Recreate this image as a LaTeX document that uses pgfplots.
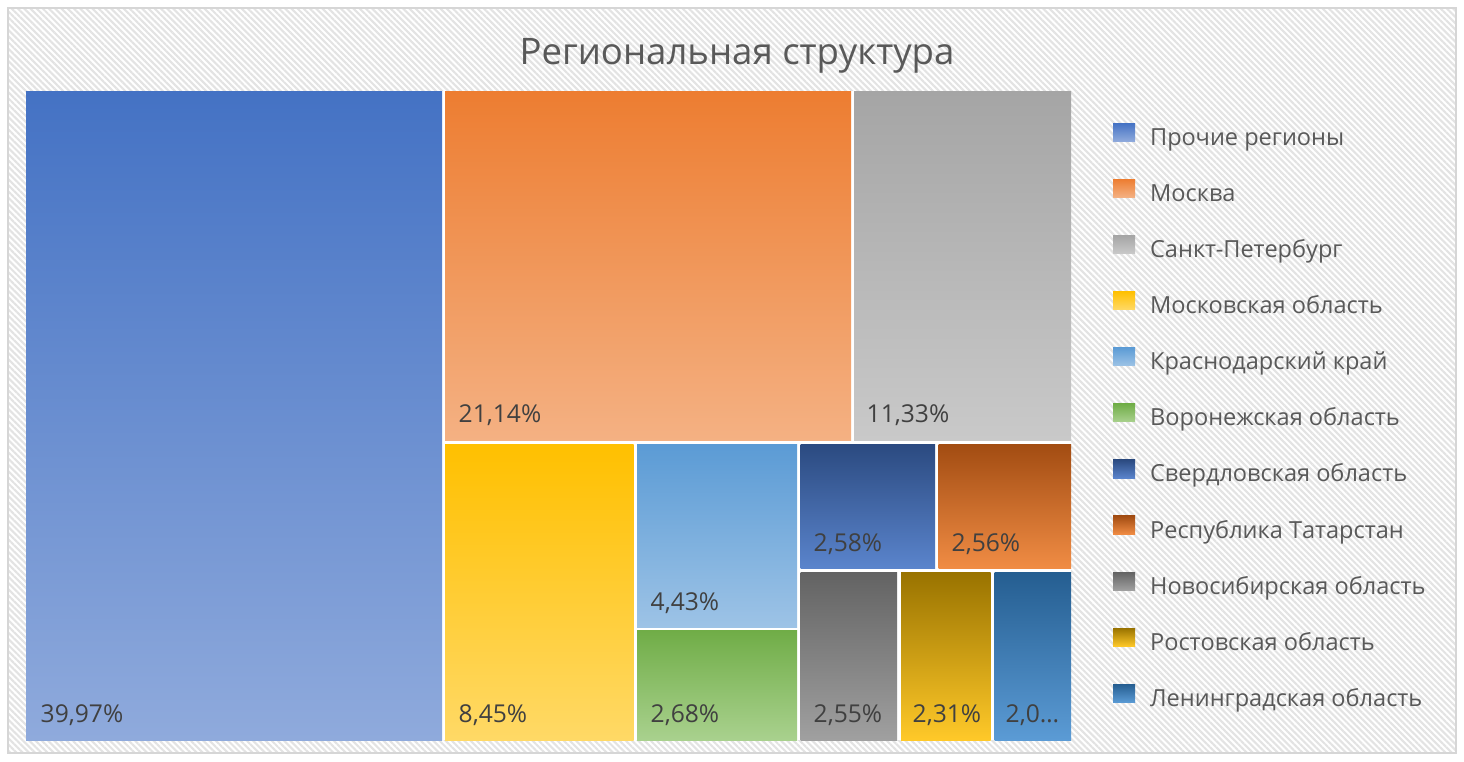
\documentclass[border=0pt]{standalone}
\usepackage{fontspec}
\setmainfont{Open Sans}
\usepackage{pgfplots}
\pgfplotsset{compat=1.18}
\usetikzlibrary{patterns.meta}

\definecolor{lab}{HTML}{404040}
\definecolor{leg}{HTML}{595959}
\definecolor{c1t}{HTML}{4472C4}\definecolor{c1b}{HTML}{8FAADC}
\definecolor{c2t}{HTML}{ED7D31}\definecolor{c2b}{HTML}{F4B183}
\definecolor{c3t}{HTML}{A5A5A5}\definecolor{c3b}{HTML}{C9C9C9}
\definecolor{c4t}{HTML}{FFC000}\definecolor{c4b}{HTML}{FFD966}
\definecolor{c5t}{HTML}{5B9BD5}\definecolor{c5b}{HTML}{9DC3E6}
\definecolor{c6t}{HTML}{70AD47}\definecolor{c6b}{HTML}{A9D18E}
\definecolor{c7t}{HTML}{2B4A80}\definecolor{c7b}{HTML}{5A84CC}
\definecolor{c8t}{HTML}{A24C12}\definecolor{c8b}{HTML}{F08C44}
\definecolor{c9t}{HTML}{636363}\definecolor{c9b}{HTML}{A0A0A0}
\definecolor{c10t}{HTML}{997300}\definecolor{c10b}{HTML}{FFC929}
\definecolor{c11t}{HTML}{255E91}\definecolor{c11b}{HTML}{5B9BD5}

\begin{document}
\begin{tikzpicture}
\useasboundingbox (0,0) rectangle (14.64cm,7.61cm);
\begin{axis}[
  at={(0,0)}, anchor=south west,
  width=14.64cm, height=7.61cm, scale only axis,
  xmin=0, xmax=1464, ymin=0, ymax=761, y dir=reverse,
  hide axis, clip=false,
  legend cell align=left,
  legend image code/.code={\fill[#1] (0pt,-1.4pt) rectangle (6.26pt,3.8pt);},
  legend style={at={(axis cs:1113,123)}, anchor=north west,
    draw=none, fill=none, inner sep=0pt, outer sep=0pt,
    row sep=9.67pt, column sep=4.3pt,
    font=\fontsize{6.7}{8}\selectfont, text=leg,
    nodes={inner sep=0pt, outer sep=0pt, text height=5pt, text depth=0pt}},
]
% background
\fill[white] (axis cs:0,0) rectangle (axis cs:1464,761);
\fill[pattern={Lines[angle=-45,distance=1.25pt,line width=0.6pt]}, pattern color=black!11]
  (axis cs:8,8) rectangle (axis cs:1456,753);
\draw[black!16, line width=0.4pt] (axis cs:8,8) rectangle (axis cs:1456,753);
\fill[white] (axis cs:26,91) rectangle (axis cs:1071,740);

% tiles (pixel coordinates of each rectangle)
\addplot[draw=none, top color=c1t, bottom color=c1b] coordinates {(26,91) (442,91) (442,740) (26,740)} -- cycle;
\addlegendentry{Прочие регионы}
\addplot[draw=none, top color=c2t, bottom color=c2b] coordinates {(445,91) (851,91) (851,440.5) (445,440.5)} -- cycle;
\addlegendentry{Москва}
\addplot[draw=none, top color=c3t, bottom color=c3b] coordinates {(854,91) (1071,91) (1071,440.5) (854,440.5)} -- cycle;
\addlegendentry{Санкт-Петербург}
\addplot[draw=none, top color=c4t, bottom color=c4b] coordinates {(445,444) (633.5,444) (633.5,740) (445,740)} -- cycle;
\addlegendentry{Московская область}
\addplot[draw=none, top color=c5t, bottom color=c5b] coordinates {(637,444) (797,444) (797,627) (637,627)} -- cycle;
\addlegendentry{Краснодарский край}
\addplot[draw=none, top color=c6t, bottom color=c6b] coordinates {(637,630.5) (797,630.5) (797,740) (637,740)} -- cycle;
\addlegendentry{Воронежская область}
\addplot[draw=none, top color=c7t, bottom color=c7b] coordinates {(800.5,444) (935,444) (935,568) (800.5,568)} -- cycle;
\addlegendentry{Свердловская область}
\addplot[draw=none, top color=c8t, bottom color=c8b] coordinates {(938.5,444) (1071,444) (1071,568) (938.5,568)} -- cycle;
\addlegendentry{Республика Татарстан}
\addplot[draw=none, top color=c9t, bottom color=c9b] coordinates {(800.5,572.5) (897,572.5) (897,740) (800.5,740)} -- cycle;
\addlegendentry{Новосибирская область}
\addplot[draw=none, top color=c10t, bottom color=c10b] coordinates {(901,572.5) (990.5,572.5) (990.5,740) (901,740)} -- cycle;
\addlegendentry{Ростовская область}
\addplot[draw=none, top color=c11t, bottom color=c11b] coordinates {(994.5,572.5) (1071,572.5) (1071,740) (994.5,740)} -- cycle;
\addlegendentry{Ленинградская область}

% title
\node[anchor=base, font=\fontsize{10.4}{12}\selectfont, text=leg, inner sep=0pt] at (axis cs:737,64) {Региональная структура};

% data labels
\begin{scope}[every node/.style={anchor=base west, inner sep=0pt, text=lab, font=\fontsize{7}{8}\selectfont}]
\node at (axis cs:40,722) {39,97\%};
\node at (axis cs:458,422) {21,14\%};
\node at (axis cs:866,422) {11,33\%};
\node at (axis cs:458,722) {8,45\%};
\node at (axis cs:650,610) {4,43\%};
\node at (axis cs:650,722) {2,68\%};
\node at (axis cs:813,551) {2,58\%};
\node at (axis cs:951,551) {2,56\%};
\node at (axis cs:813,722) {2,55\%};
\node at (axis cs:912,722) {2,31\%};
\node at (axis cs:1005,722) {2,0…};
\end{scope}
\end{axis}
\end{tikzpicture}
\end{document}
